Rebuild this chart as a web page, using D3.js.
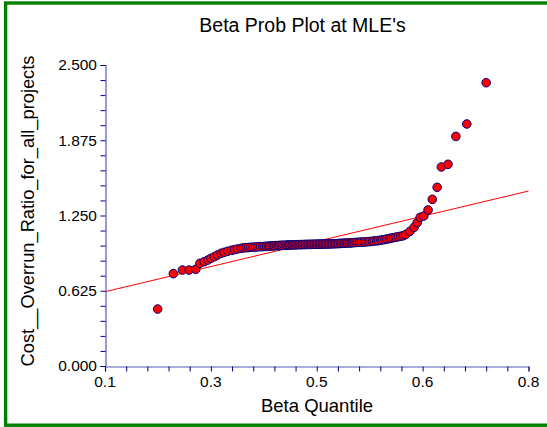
<!DOCTYPE html>
<html>
<head>
<meta charset="utf-8">
<script src="https://cdn.jsdelivr.net/npm/d3@7"></script>
<style>
  body { margin: 0; background: #fff; }
  svg { display: block; font-family: "Liberation Sans", Arial, sans-serif; }
</style>
</head>
<body>
<svg id="drawing_region"></svg>
<script>
// beta quantiles (x) and sorted cost overrun ratios (y)
const quantiles = [
    0.187, 0.213, 0.228, 0.239, 0.250, 0.257, 0.264, 0.270, 0.275, 0.281,
    0.286, 0.292, 0.297, 0.303, 0.309, 0.314, 0.319, 0.325, 0.329, 0.333,
    0.337, 0.341, 0.345, 0.349, 0.353, 0.357, 0.361, 0.364, 0.367, 0.370,
    0.372, 0.375, 0.378, 0.380, 0.383, 0.386, 0.388, 0.391, 0.393, 0.396,
    0.399, 0.401, 0.404, 0.406, 0.409, 0.411, 0.414, 0.416, 0.419, 0.421,
    0.424, 0.426, 0.429, 0.431, 0.434, 0.436, 0.439, 0.441, 0.444, 0.446,
    0.449, 0.451, 0.454, 0.456, 0.459, 0.461, 0.464, 0.466, 0.469, 0.471,
    0.474, 0.476, 0.479, 0.481, 0.484, 0.486, 0.489, 0.491, 0.494, 0.496,
    0.499, 0.501, 0.504, 0.507, 0.509, 0.512, 0.515, 0.518, 0.521, 0.524,
    0.528, 0.531, 0.535, 0.538, 0.542, 0.545, 0.549, 0.552, 0.556, 0.559,
    0.563, 0.566, 0.570, 0.573, 0.577, 0.581, 0.585, 0.589, 0.593, 0.597,
    0.604, 0.611, 0.616, 0.621, 0.627, 0.634, 0.641, 0.649, 0.656, 0.667,
    0.680, 0.698, 0.730
];
const ratios = [
    0.473, 0.767, 0.797, 0.797, 0.803, 0.853, 0.866, 0.880, 0.894, 0.908,
    0.922, 0.936, 0.944, 0.953, 0.961, 0.966, 0.972, 0.977, 0.981, 0.983,
    0.984, 0.986, 0.987, 0.988, 0.990, 0.991, 0.992, 0.993, 0.994, 0.995,
    0.996, 0.997, 0.998, 0.999, 1.000, 1.000, 1.001, 1.002, 1.002, 1.003,
    1.003, 1.004, 1.005, 1.005, 1.006, 1.006, 1.007, 1.007, 1.008, 1.008,
    1.008, 1.009, 1.009, 1.009, 1.010, 1.010, 1.010, 1.010, 1.011, 1.011,
    1.011, 1.012, 1.012, 1.012, 1.013, 1.013, 1.013, 1.014, 1.014, 1.014,
    1.015, 1.015, 1.016, 1.016, 1.017, 1.017, 1.018, 1.019, 1.019, 1.020,
    1.021, 1.021, 1.022, 1.023, 1.024, 1.025, 1.026, 1.027, 1.028, 1.029,
    1.030, 1.031, 1.033, 1.034, 1.036, 1.038, 1.040, 1.042, 1.045, 1.048,
    1.051, 1.055, 1.058, 1.062, 1.066, 1.070, 1.074, 1.078, 1.082, 1.092,
    1.118, 1.152, 1.190, 1.235, 1.246, 1.296, 1.384, 1.484, 1.653, 1.675,
    1.907, 2.010, 2.353
];

// fitted reference line
const fitX = [0.1, 0.8];
const fitY = [0.617, 1.453];

const xTicks = [0.1, 0.275, 0.45, 0.625, 0.8];
const xTickLabels = ["0.1", "0.3", "0.5", "0.6", "0.8"];
const yTicks = [0, 0.625, 1.25, 1.875, 2.5];
const yTickLabels = ["0.000", "0.625", "1.250", "1.875", "2.500"];

class ProbPlot {

    constructor(config) {
        this.config = config;
        this.points = quantiles.map((q, i) => ({ x: q, y: ratios[i] }));
        this.init();
    }

    init() {
        let self = this;

        self.svg = d3.select(self.config.parent)
            .attr('width', self.config.width)
            .attr('height', self.config.height);

        // green frame
        self.svg.append('rect')
            .attr('x', 5.6).attr('y', 3)
            .attr('width', 560).attr('height', 422.2)
            .attr('fill', 'none')
            .attr('stroke', '#008000')
            .attr('stroke-width', 3.4);

        self.xScale = d3.scaleLinear()
            .domain([0.1, 0.8])
            .range([105, 528.5]);

        self.yScale = d3.scaleLinear()
            .domain([0, 2.5])
            .range([366, 65]);

        self.svg.append('text')
            .attr('x', 302.5)
            .attr('y', 32)
            .attr('text-anchor', 'middle')
            .style('font-size', '19.5px')
            .text("Beta Prob Plot at MLE's");

        self.svg.append('text')
            .attr('x', 317)
            .attr('y', 411.5)
            .attr('text-anchor', 'middle')
            .style('font-size', '18.5px')
            .text('Beta Quantile');

        self.svg.append('text')
            .attr('transform', 'translate(33.5,211) rotate(-90)')
            .attr('text-anchor', 'middle')
            .style('font-size', '18.3px')
            .text('Cost__Overrun_Ratio_for_all_projects');
    }

    render() {
        let self = this;

        const xMinor = d3.range(0.1, 0.8001, 0.035);
        const yMinor = d3.range(0, 2.5001, 0.125);

        const xAxis = d3.axisBottom(self.xScale)
            .tickValues(xMinor).tickSize(5).tickFormat('');
        const yAxis = d3.axisLeft(self.yScale)
            .tickValues(yMinor).tickSize(5).tickFormat('');

        const gx = self.svg.append('g')
            .attr('transform', 'translate(0,366.5)')
            .call(xAxis);
        const gy = self.svg.append('g')
            .attr('transform', 'translate(105.5,0)')
            .call(yAxis);

        [gx, gy].forEach(g => {
            g.select('.domain').attr('stroke', '#5a5ab4').attr('stroke-width', 1.2);
            g.selectAll('.tick line').attr('stroke', '#000080');
        });

        self.svg.selectAll('.xlabel')
            .data(xTicks)
            .enter()
            .append('text')
            .attr('class', 'xlabel')
            .attr('x', d => self.xScale(d))
            .attr('y', 387)
            .attr('text-anchor', 'middle')
            .style('font-size', '15.5px')
            .text((d, i) => xTickLabels[i]);

        self.svg.selectAll('.ylabel')
            .data(yTicks)
            .enter()
            .append('text')
            .attr('class', 'ylabel')
            .attr('x', 97)
            .attr('y', d => self.yScale(d))
            .attr('dy', '0.35em')
            .attr('text-anchor', 'end')
            .style('font-size', '15.5px')
            .text((d, i) => yTickLabels[i]);

        self.svg.append('line')
            .attr('x1', self.xScale(fitX[0]))
            .attr('y1', self.yScale(fitY[0]))
            .attr('x2', self.xScale(fitX[1]))
            .attr('y2', self.yScale(fitY[1]))
            .attr('stroke', 'red')
            .attr('stroke-width', 1);

        self.svg.selectAll('circle')
            .data(self.points)
            .enter()
            .append('circle')
            .attr('cx', d => self.xScale(d.x))
            .attr('cy', d => self.yScale(d.y))
            .attr('r', 4.3)
            .attr('fill', 'red')
            .attr('stroke', '#000080')
            .attr('stroke-width', 1);
    }
}

const chart = new ProbPlot({
    parent: '#drawing_region',
    width: 547,
    height: 427
});
chart.render();
</script>
</body>
</html>
